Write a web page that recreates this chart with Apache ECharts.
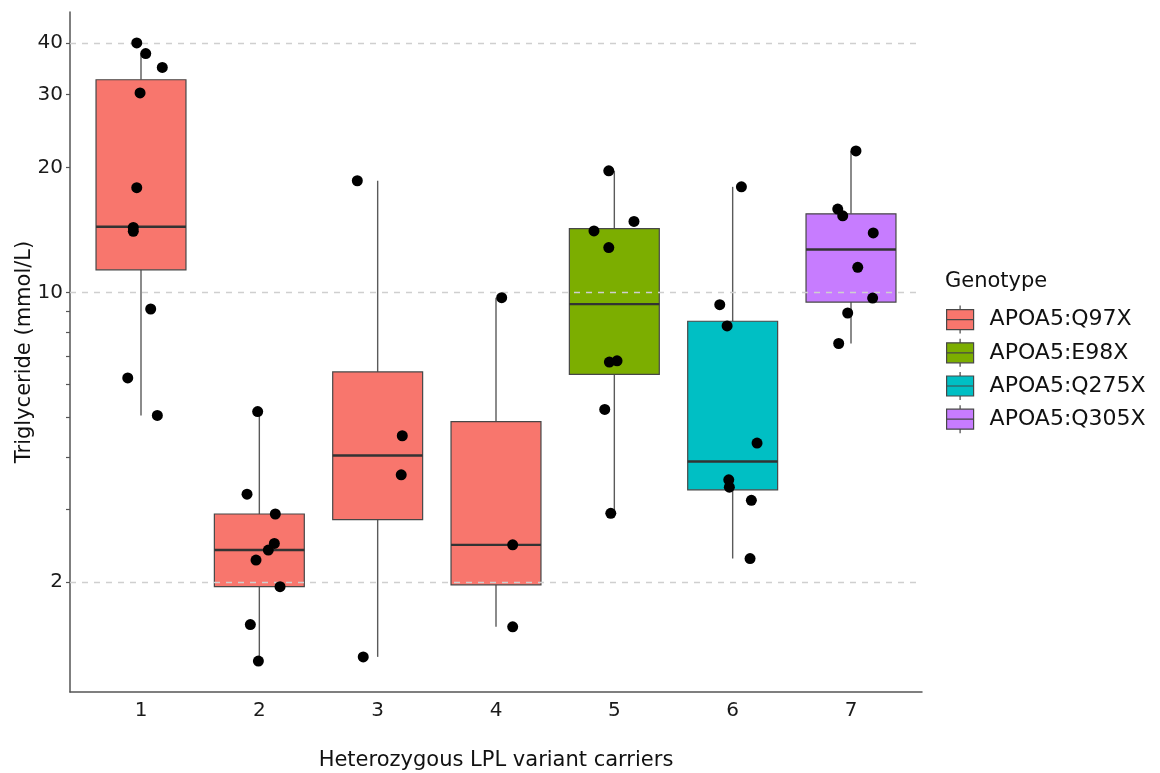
<!DOCTYPE html>
<html>
<head>
<meta charset="utf-8">
<script src="https://cdn.jsdelivr.net/npm/echarts@6/dist/echarts.min.js"></script>
<style>
  html, body { margin: 0; padding: 0; background: #ffffff; }
  #chart { width: 1160px; height: 773px; }
</style>
</head>
<body>
<div id="chart"></div>
<script>
// Carriers on the x axis and the genotype each carrier group belongs to
const carriers = ['1', '2', '3', '4', '5', '6', '7'];
const genotypes = ['APOA5:Q97X', 'APOA5:E98X', 'APOA5:Q275X', 'APOA5:Q305X'];
const genotypeColors = ['#F8766D', '#7CAE00', '#00BFC4', '#C77CFF'];
const carrierGenotype = [0, 0, 0, 0, 1, 2, 3];

// Box statistics per carrier group, triglyceride in mmol/L
const whiskerLow    = [5.05, 1.29, 1.32, 1.56, 2.93, 2.28, 7.53];
const lowerQuartile = [11.34, 1.95, 2.83, 1.97, 6.34, 3.34, 9.48];
const medianTG      = [14.4, 2.39, 4.04, 2.46, 9.37, 3.91, 12.69];
const upperQuartile = [32.6, 2.92, 6.43, 4.88, 14.25, 8.52, 15.48];
const whiskerHigh   = [37.7, 5.16, 18.6, 9.71, 19.65, 17.98, 21.95];

// Individual measurements per carrier group
const pointsTG = [
  [40.0, 37.7, 34.9, 30.3, 17.9, 14.35, 14.04, 9.12, 6.22, 5.05],
  [5.16, 3.26, 2.92, 2.48, 2.39, 2.26, 1.95, 1.58, 1.29],
  [18.6, 4.51, 3.63, 1.32],
  [9.71, 2.46, 1.56],
  [19.65, 14.84, 14.07, 12.83, 6.79, 6.84, 5.22, 2.93],
  [17.98, 9.34, 8.30, 4.33, 3.53, 3.39, 3.15, 2.28],
  [21.95, 15.89, 15.31, 13.92, 11.5, 9.69, 8.92, 7.53]
];
// Horizontal jitter of each measurement (in category units)
const pointsJitter = [
  [-0.036, 0.040, 0.180, -0.008, -0.036, -0.065, -0.065, 0.082, -0.112, 0.138],
  [-0.014, -0.104, 0.135, 0.127, 0.076, -0.028, 0.175, -0.076, -0.008],
  [-0.172, 0.208, 0.199, -0.122],
  [0.048, 0.141, 0.141],
  [-0.047, 0.166, -0.172, -0.047, -0.042, 0.023, -0.081, -0.030],
  [0.074, -0.109, -0.047, 0.206, -0.033, -0.028, 0.158, 0.147],
  [0.042, -0.112, -0.070, 0.188, 0.057, 0.183, -0.028, -0.104]
];

// Axis ticks, labels and reference lines
const yTickValues = [2, 3, 4, 5, 6, 7, 8, 9, 10, 20, 30, 40];
const yLabelValues = [2, 10, 20, 30, 40];
const gridValues = [2, 10, 40];
const xTickValues = [1, 2, 3, 4, 5, 6, 7];

const FONT = 'DejaVu Sans';
const BOX_WIDTH = 0.76;
const AXIS_COLOR = '#555555';

function renderBox(params, api) {
  const x = api.value(0);
  const lo = api.coord([x, api.value(1)]);
  const q1 = api.coord([x, api.value(2)]);
  const md = api.coord([x, api.value(3)]);
  const q3 = api.coord([x, api.value(4)]);
  const hi = api.coord([x, api.value(5)]);
  const halfW = api.size([BOX_WIDTH, 0], [x, 10])[0] / 2;
  const fill = api.visual('color');
  const whisker = { stroke: '#5a5a5a', lineWidth: 1.4 };
  return {
    type: 'group',
    children: [
      { type: 'line', shape: { x1: lo[0], y1: lo[1], x2: q1[0], y2: q1[1] }, style: whisker },
      { type: 'line', shape: { x1: q3[0], y1: q3[1], x2: hi[0], y2: hi[1] }, style: whisker },
      {
        type: 'rect',
        shape: { x: q1[0] - halfW, y: q3[1], width: halfW * 2, height: q1[1] - q3[1] },
        style: { fill: fill, stroke: '#474747', lineWidth: 1.2 }
      },
      {
        type: 'line',
        shape: { x1: md[0] - halfW, y1: md[1], x2: md[0] + halfW, y2: md[1] },
        style: { stroke: '#333333', lineWidth: 2.4 }
      }
    ]
  };
}

// One box series per genotype so the legend lists each genotype
const boxSeries = genotypes.map(function (name, g) {
  const data = [];
  carriers.forEach(function (c, i) {
    if (carrierGenotype[i] === g) {
      data.push([i + 1, whiskerLow[i], lowerQuartile[i], medianTG[i], upperQuartile[i], whiskerHigh[i]]);
    }
  });
  return {
    name: name,
    type: 'custom',
    renderItem: renderBox,
    itemStyle: { color: genotypeColors[g] },
    encode: { x: 0, y: [1, 2, 3, 4, 5] },
    data: data,
    z: 2,
    silent: true
  };
});

const pointData = [];
pointsTG.forEach(function (vals, i) {
  vals.forEach(function (v, k) {
    pointData.push([i + 1 + pointsJitter[i][k], v]);
  });
});

// Legend key: filled box with median line and whisker stubs
const keyPath = 'path://M13.5 0 L13.5 4 M0 4 L27 4 L27 24 L0 24 Z M0 14 L27 14 M13.5 24 L13.5 28';

const option = {
  backgroundColor: '#ffffff',
  animation: false,
  grid: { left: 70, right: 238, top: 12, bottom: 81, containLabel: false, outerBoundsMode: 'none' },
  xAxis: {
    type: 'value',
    min: 0.4,
    max: 7.6,
    name: 'Heterozygous LPL variant carriers',
    nameLocation: 'middle',
    nameGap: 58,
    nameTextStyle: { fontFamily: FONT, fontSize: 21, color: '#111111' },
    axisLine: { show: true, onZero: false, lineStyle: { color: AXIS_COLOR, width: 1.5 } },
    axisTick: { show: false },
    axisLabel: {
      customValues: xTickValues,
      formatter: function (v) { return carriers[Math.round(v) - 1]; },
      fontFamily: FONT, fontSize: 20, color: '#1a1a1a', margin: 9
    },
    splitLine: { show: false }
  },
  yAxis: {
    type: 'log',
    logBase: 10,
    min: 1.086,
    max: 47.5,
    name: 'Triglyceride (mmol/L)',
    nameLocation: 'middle',
    nameGap: 35,
    nameRotate: 90,
    nameMoveOverlap: false,
    nameTextStyle: { fontFamily: FONT, fontSize: 21, color: '#111111' },
    axisLine: { show: true, lineStyle: { color: AXIS_COLOR, width: 1.5 } },
    axisTick: { show: true, length: 4, customValues: yTickValues, lineStyle: { color: AXIS_COLOR, width: 1.2 } },
    axisLabel: {
      customValues: yLabelValues,
      formatter: function (v) { return String(+(+v).toFixed(3)); },
      fontFamily: FONT, fontSize: 20, color: '#1a1a1a', margin: 7
    },
    minorTick: { show: false },
    splitLine: { show: false }
  },
  legend: {
    orient: 'vertical',
    left: 946,
    top: 305,
    padding: 0,
    itemWidth: 27,
    itemHeight: 28,
    itemGap: 4,
    icon: keyPath,
    selectedMode: false,
    data: genotypes,
    itemStyle: { borderColor: '#474747', borderWidth: 1.2 },
    textStyle: { fontFamily: FONT, fontSize: 22, color: '#111111', padding: [0, 0, 0, 11] }
  },
  graphic: [{
    type: 'text',
    left: 945,
    top: 271,
    style: { text: 'Genotype', fontFamily: FONT, fontSize: 21, fill: '#111111' }
  }],
  series: [
    {
      name: 'gridlines',
      type: 'line',
      data: [],
      z: 1,
      silent: true,
      markLine: {
        silent: true,
        symbol: 'none',
        label: { show: false },
        lineStyle: { color: '#cfcfcf', width: 1.3, type: [6, 6] },
        data: gridValues.map(function (v) { return { yAxis: v }; })
      }
    }
  ].concat(boxSeries).concat([
    {
      name: 'measurements',
      type: 'scatter',
      data: pointData,
      symbol: 'circle',
      symbolSize: 11,
      itemStyle: { color: '#000000', opacity: 1 },
      z: 5,
      silent: true
    }
  ])
};

const chart = echarts.init(document.getElementById('chart'), null, { renderer: 'canvas' });
chart.setOption(option);
</script>
</body>
</html>
